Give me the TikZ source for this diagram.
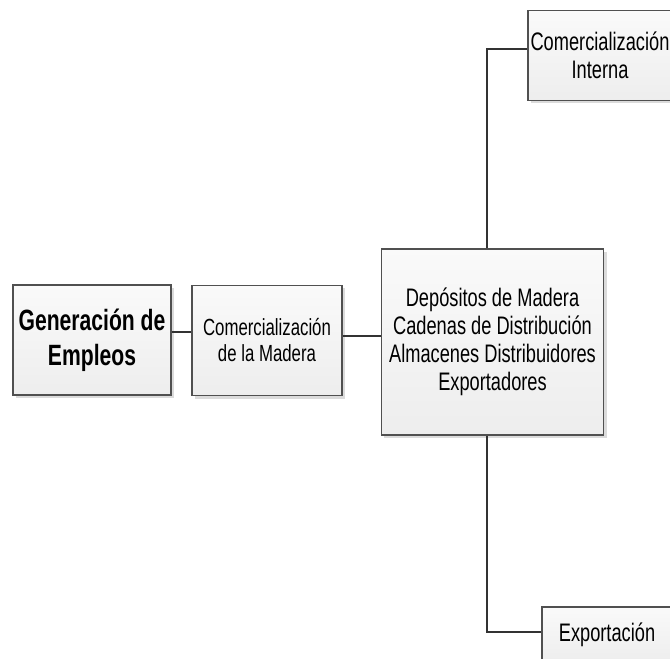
\documentclass[tikz,border=0pt]{standalone}
\usepackage{fontspec}
\setmainfont{Liberation Sans}[FakeStretch=0.72]
\usetikzlibrary{shadows}

\tikzset{every picture/.style={line width=0.75pt}}
\tikzset{
	caja/.style={draw={rgb,255:red,80;green,80;blue,80}, line width=0.9pt, top color=gray!4, bottom color=gray!14, drop shadow={shadow xshift=2pt, shadow yshift=-2pt, fill=gray!35, opacity=0.8}, inner sep=0pt, align=center},
	enlace/.style={draw={rgb,255:red,50;green,50;blue,50}, line width=1.1pt}
}

\begin{document}
\begin{tikzpicture}[x=0.75pt,y=0.75pt,yscale=-1,xscale=1]
		\useasboundingbox (0,0) rectangle (670,659);
		
		% Text Node
		\node (gen) [caja, minimum width=118.5pt, minimum height=82.5pt, font=\bfseries\fontsize{22}{26}\selectfont] at (92,340) {Generación de\\Empleos};
		% Text Node
		\node (com) [caja, minimum width=112.5pt, minimum height=83pt, font=\fontsize{17.5}{19.5}\selectfont] at (267,340.5) {Comercialización\\de la Madera};
		% Text Node
		\node (dep) [caja, minimum width=167pt, minimum height=139.5pt, font=\fontsize{19}{21}\selectfont] at (492.5,342) {Depósitos de Madera\\Cadenas de Distribución\\Almacenes Distribuidores\\Exportadores};
		% Text Node
		\node (intl) [caja, minimum width=108pt, minimum height=68pt, font=\fontsize{19}{21}\selectfont] at (600,55.5) {Comercialización\\Interna};
		% Text Node
		\node (exp) [caja, minimum width=97.5pt, minimum height=42pt, font=\fontsize{19}{21}\selectfont] at (607,635) {Exportación};
		
		%Straight Lines
		\draw [enlace] (gen.east |- 0,332) -- (com.west |- 0,332) ;
		%Straight Lines
		\draw [enlace] (com.east |- 0,336) -- (dep.west |- 0,336) ;
		%Straight Lines
		\draw [enlace] (dep.north -| 487,0) |- (intl.west |- 0,49) ;
		%Straight Lines
		\draw [enlace] (dep.south -| 487,0) |- (exp.west |- 0,632) ;
\end{tikzpicture}
\end{document}
